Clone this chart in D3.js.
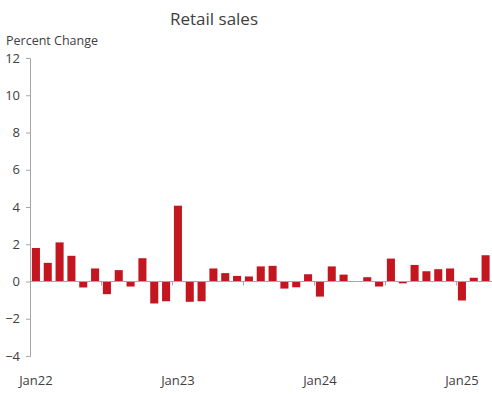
<!DOCTYPE html>
<html>
<head>
<meta charset="utf-8">
<script src="https://cdn.jsdelivr.net/npm/d3@7"></script>
<style>
  body { margin: 0; background: #fff; }
  text { font-family: "Open Sans", "Noto Sans", sans-serif; fill: #404040; }
</style>
</head>
<body>
<div id="chart"></div>
<script>
// monthly retail sales, percent change
var months = ["Jan22","Feb22","Mar22","Apr22","May22","Jun22","Jul22","Aug22","Sep22","Oct22","Nov22","Dec22",
              "Jan23","Feb23","Mar23","Apr23","May23","Jun23","Jul23","Aug23","Sep23","Oct23","Nov23","Dec23",
              "Jan24","Feb24","Mar24","Apr24","May24","Jun24","Jul24","Aug24","Sep24","Oct24","Nov24","Dec24",
              "Jan25","Feb25","Mar25"];
var values = [1.8, 1.0, 2.1, 1.38, -0.32, 0.7, -0.68, 0.61, -0.27, 1.25, -1.18, -1.06,
              4.07, -1.09, -1.06, 0.7, 0.45, 0.3, 0.27, 0.81, 0.84, -0.38, -0.31, 0.39,
              -0.81, 0.81, 0.37, 0.0, 0.23, -0.27, 1.23, -0.1, 0.89, 0.55, 0.66, 0.7,
              -1.02, 0.2, 1.41];
var yTicks = [-4, -2, 0, 2, 4, 6, 8, 10, 12];
var xLabels = ["Jan22", "Jan23", "Jan24", "Jan25"];

var width = 492, height = 394;
var margin = {top: 58, right: 0, bottom: 38, left: 30};

var svg = d3.select("#chart").append("svg")
    .attr("width", width)
    .attr("height", height);

var x = d3.scaleBand()
    .domain(months)
    .range([margin.left, width - 0.5])
    .paddingInner(0.32)
    .paddingOuter(0.16);

var y = d3.scaleLinear()
    .domain([-4, 12])
    .range([356, 58]);

var barColor = "#c3161f";

// y axis
var yAxis = svg.append("g")
    .attr("transform", "translate(" + margin.left + ",0)")
    .call(d3.axisLeft(y).tickValues(yTicks).tickSize(4).tickPadding(6).tickFormat(d3.format("d")));
yAxis.selectAll("path, line").attr("stroke", "#a6a6a6");
yAxis.selectAll("text").attr("font-size", 13).attr("fill", "#404040")
    .style("font-family", "'Open Sans', sans-serif");

// bars
svg.selectAll("rect.bar")
    .data(values)
    .enter()
    .append("rect")
    .attr("class", "bar")
    .attr("x", function(d, i) { return x(months[i]); })
    .attr("width", x.bandwidth())
    .attr("y", function(d) { return y(Math.max(0, d)); })
    .attr("height", function(d) { return Math.abs(y(d) - y(0)); })
    .attr("fill", barColor);

// zero line with ticks every 6 months
svg.append("line")
    .attr("x1", margin.left).attr("x2", width)
    .attr("y1", y(0)).attr("y2", y(0))
    .attr("stroke", "#a6a6a6");

var step = x.step();
var tickIdx = d3.range(6, months.length, 6);
svg.selectAll("line.xtick")
    .data(tickIdx)
    .enter()
    .append("line")
    .attr("class", "xtick")
    .attr("x1", function(i) { return Math.round(x(months[i]) - step * x.paddingInner() / 2) + 0.5; })
    .attr("x2", function(i) { return Math.round(x(months[i]) - step * x.paddingInner() / 2) + 0.5; })
    .attr("y1", y(0)).attr("y2", y(0) + 4)
    .attr("stroke", "#a6a6a6");

// x labels
svg.selectAll("text.xlab")
    .data(xLabels)
    .enter()
    .append("text")
    .attr("class", "xlab")
    .attr("x", function(d) { return x(d) + x.bandwidth() / 2; })
    .attr("y", 385)
    .attr("text-anchor", "middle")
    .attr("font-size", 13)
    .text(function(d) { return d; });

// titles
svg.append("text")
    .attr("x", 214)
    .attr("y", 25)
    .attr("text-anchor", "middle")
    .attr("font-size", 17)
    .attr("fill", "#505050")
    .text("Retail sales");

svg.append("text")
    .attr("x", 6)
    .attr("y", 45)
    .attr("font-size", 12.5)
    .text("Percent Change");
</script>
</body>
</html>
